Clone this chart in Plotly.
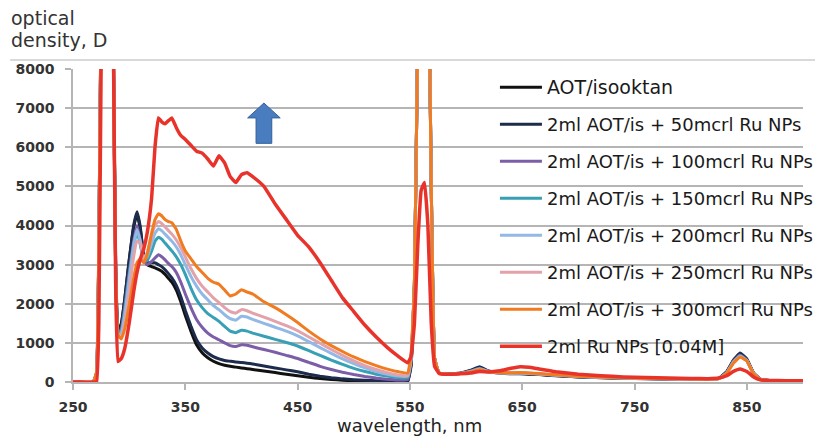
import plotly.graph_objects as go

# wavelength grid, nm
wl = [250, 268, 271, 273, 275, 277, 284, 286, 288, 290,
      293, 296, 300, 304, 307, 310, 313, 316, 320, 323,
      326, 329, 332, 335, 338, 342, 346, 350, 355, 360,
      365, 370, 375, 380, 385, 390, 395, 400, 405, 410,
      420, 430, 440, 450, 460, 470, 480, 490, 500, 510,
      520, 530, 540, 548, 551, 554, 557, 560, 563, 566,
      569, 572, 576, 585, 595, 604, 612, 620, 630, 640,
      648, 656, 665, 680, 700, 720, 740, 760, 780, 800,
      815, 825, 832, 838, 844, 850, 856, 862, 870, 885,
      900]

d_aot = [0, 0, 200, 3500, 9500, 14000, 14000, 8500, 3000, 1300,
         1500, 2100, 3100, 3950, 4300, 3900, 3200, 3000, 2950, 2920,
         2880, 2830, 2750, 2650, 2550, 2350, 2050, 1700, 1300, 950,
         750, 620, 530, 470, 430, 400, 380, 360, 340, 320,
         280, 240, 200, 160, 120, 90, 65, 45, 30, 20,
         15, 10, 10, 15, 400, 2500, 9000, 14000, 14000, 12000,
         5000, 600, 220, 200, 220, 290, 370, 270, 230, 210,
         210, 200, 190, 160, 130, 110, 95, 85, 75, 70,
         65, 90, 250, 540, 700, 560, 220, 70, 40, 35,
         35]

d_50 = [0, 0, 250, 3600, 9500, 14000, 14000, 8400, 2900, 1250,
        1450, 2100, 3100, 4000, 4350, 3950, 3200, 3050, 3050, 3050,
        3000, 2950, 2870, 2770, 2660, 2470, 2180, 1830, 1430, 1080,
        870, 740, 650, 590, 550, 530, 510, 500, 480, 460,
        410, 360, 310, 260, 200, 150, 110, 80, 60, 45,
        35, 25, 20, 30, 450, 2500, 9000, 14000, 14000, 12000,
        5000, 600, 230, 210, 230, 300, 390, 280, 240, 220,
        220, 210, 195, 165, 135, 115, 100, 88, 78, 72,
        68, 95, 260, 560, 740, 590, 230, 75, 40, 35,
        35]

d_100 = [0, 0, 200, 3400, 9400, 14000, 14000, 8400, 2900, 1250,
         1350, 1900, 2800, 3600, 4000, 3600, 3100, 3000, 3080, 3170,
         3250, 3200, 3120, 3030, 2950, 2800, 2550, 2250, 1900, 1600,
         1400, 1250, 1150, 1080, 1000, 930, 910, 950, 940, 900,
         830, 760, 680, 600, 500, 400, 320, 250, 190, 140,
         100, 70, 50, 60, 500, 2500, 9000, 14000, 14000, 12000,
         5000, 600, 230, 200, 220, 280, 350, 270, 235, 220,
         225, 215, 200, 170, 140, 118, 100, 88, 78, 72,
         68, 90, 240, 530, 690, 560, 220, 70, 40, 35,
         35]

d_150 = [0, 0, 200, 3400, 9400, 14000, 14000, 8300, 2800, 1250,
         1300, 1800, 2700, 3500, 3850, 3500, 3100, 3100, 3350, 3600,
         3700, 3650, 3550, 3450, 3350, 3200, 3000, 2750, 2400, 2100,
         1900, 1750, 1650, 1550, 1420, 1300, 1260, 1320, 1300, 1250,
         1170, 1090, 1010, 920, 800, 680, 560, 450, 350, 270,
         200, 150, 110, 110, 550, 2500, 9000, 14000, 14000, 12000,
         5000, 600, 230, 200, 215, 270, 340, 265, 235, 225,
         230, 220, 205, 175, 142, 120, 102, 90, 80, 73,
         68, 88, 230, 510, 670, 550, 215, 70, 40, 35,
         35]

d_200 = [0, 0, 200, 3300, 9300, 14000, 14000, 8300, 2700, 1200,
         1250, 1700, 2600, 3500, 3900, 3600, 3150, 3200, 3550, 3800,
         3920, 3870, 3780, 3690, 3600, 3450, 3250, 3000, 2700, 2450,
         2250, 2100, 1950, 1850, 1720, 1620, 1580, 1680, 1660, 1600,
         1500, 1400, 1300, 1180, 1030, 880, 730, 590, 470, 360,
         270, 200, 150, 150, 600, 2500, 9000, 14000, 14000, 12000,
         5000, 600, 230, 200, 215, 265, 330, 260, 235, 225,
         230, 222, 207, 177, 145, 122, 104, 92, 82, 74,
         68, 87, 225, 500, 660, 545, 210, 68, 40, 35,
         35]

d_250 = [0, 0, 200, 3300, 9300, 14000, 14000, 8200, 2600, 1150,
         1150, 1500, 2300, 3200, 3600, 3550, 3150, 3300, 3750, 4000,
         4100, 4050, 3960, 3870, 3780, 3630, 3430, 3200, 2900, 2650,
         2450, 2300, 2150, 2030, 1900, 1800, 1760, 1850, 1820, 1760,
         1660, 1550, 1440, 1310, 1150, 990, 830, 680, 540, 420,
         320, 240, 180, 170, 650, 2500, 9000, 14000, 14000, 12000,
         5000, 600, 230, 200, 215, 260, 320, 260, 238, 230,
         235, 225, 210, 180, 148, 124, 106, 93, 83, 75,
         68, 86, 220, 490, 650, 540, 210, 68, 40, 35,
         35]

d_300 = [0, 0, 250, 3400, 9400, 14000, 14000, 8300, 2700, 1200,
         1100, 1350, 1950, 2650, 3050, 3150, 3050, 3250, 3800, 4150,
         4300, 4250, 4150, 4100, 4070, 3900, 3600, 3350, 3150, 2950,
         2800, 2650, 2550, 2500, 2350, 2200, 2250, 2360, 2300, 2250,
         2050, 1900, 1720, 1520, 1300, 1100, 930, 780, 640, 520,
         420, 330, 260, 230, 700, 2500, 9000, 14000, 14000, 12000,
         5000, 600, 230, 200, 215, 255, 310, 260, 240, 235,
         240, 230, 215, 185, 150, 126, 108, 95, 85, 76,
         68, 85, 215, 480, 640, 535, 205, 66, 40, 35,
         35]

d_ru = [0, 0, 0, 1500, 8000, 14000, 14000, 8500, 2500, 520,
        600, 850, 1500, 2300, 2800, 3150, 3400, 3800, 4700, 6000,
        6750, 6650, 6600, 6680, 6750, 6500, 6300, 6200, 6050, 5900,
        5850, 5700, 5520, 5780, 5600, 5250, 5100, 5300, 5350, 5250,
        5000, 4550, 4150, 3750, 3450, 3050, 2600, 2150, 1800, 1450,
        1150, 880, 650, 490, 650, 1500, 3500, 4900, 5100, 4000,
        1500, 400, 220, 200, 210, 230, 270, 255, 285, 350,
        390, 375, 330, 260, 200, 160, 130, 112, 100, 92,
        86, 100, 160, 270, 330, 270, 130, 55, 40, 35,
        35]

series_names = [
    '<span style="font-size:19px">AOT/isooktan</span>',
    "2ml AOT/is + 50mcrl Ru NPs",
    "2ml AOT/is + 100mcrl Ru NPs",
    "2ml AOT/is + 150mcrl Ru NPs",
    "2ml AOT/is + 200mcrl Ru NPs",
    "2ml AOT/is + 250mcrl Ru NPs",
    "2ml AOT/is + 300mcrl Ru NPs",
    "2ml Ru NPs [0.04M]",
]
series_values = [d_aot, d_50, d_100, d_150, d_200, d_250, d_300, d_ru]
series_colors = ["#111111", "#1d2c4c", "#7b5ea7", "#37a0b5",
                 "#92b9e6", "#e3a2aa", "#f07b20", "#e8332a"]
series_widths = [3, 3, 3, 3, 3, 3, 3, 3.5]

x_ticks = [250, 350, 450, 550, 650, 750, 850]

for v in series_values:
    assert len(v) == len(wl), len(v)

FONT = "DejaVu Sans"
GRID = "#b5b5b5"

fig = go.Figure()
for i, (name, vals, col, w) in enumerate(zip(series_names, series_values,
                                             series_colors, series_widths)):
    fig.add_trace(go.Scatter(
        x=wl, y=vals, mode="lines", name=name,
        legendgroup=f"g{i}",
        line=dict(color=col, width=w, shape="spline", smoothing=0.3),
        hoverinfo="skip",
    ))

# block arrow (decoration), in data units
ax_c, ax_tip, ax_neck, ax_base = 420, 7130, 6750, 6100
head_half, shaft_half = 14.5, 7.0
arrow_path = (f"M {ax_c} {ax_tip} L {ax_c + head_half} {ax_neck} "
              f"L {ax_c + shaft_half} {ax_neck} L {ax_c + shaft_half} {ax_base} "
              f"L {ax_c - shaft_half} {ax_base} L {ax_c - shaft_half} {ax_neck} "
              f"L {ax_c - head_half} {ax_neck} Z")

fig.update_layout(
    width=823, height=438,
    margin=dict(l=65, r=28, t=61, b=64, autoexpand=False),
    paper_bgcolor="white", plot_bgcolor="white",
    font=dict(family=FONT, color="#222222"),
    showlegend=True,
    legend=dict(
        x=0.578, y=1.0, xanchor="left", yanchor="top",
        bgcolor="rgba(0,0,0,0)", borderwidth=0,
        font=dict(family=FONT, size=18, color="#1a1a1a"),
        tracegroupgap=10.6, itemwidth=42,
    ),
    xaxis=dict(
        range=[250, 900], tickmode="array", tickvals=x_ticks,
        showgrid=False, zeroline=False, automargin=False,
        showline=True, linecolor=GRID, linewidth=1.5,
        ticks="outside", ticklen=6, tickcolor=GRID, tickwidth=1.5,
        tickfont=dict(family=FONT, size=14, color="#333333", weight="bold"),
        ticklabelstandoff=5,
    ),
    yaxis=dict(
        range=[0, 8000], dtick=1000, tick0=0,
        showgrid=True, gridcolor=GRID, gridwidth=1.5, zeroline=False,
        automargin=False,
        showline=True, linecolor=GRID, linewidth=1.5,
        ticks="outside", ticklen=6, tickcolor=GRID, tickwidth=1.5,
        tickfont=dict(family=FONT, size=14, color="#333333", weight="bold"),
        ticklabelstandoff=8,
    ),
    shapes=[
        dict(type="line", xref="paper", yref="paper",
             x0=-0.086, x1=1.05, y0=1.029, y1=1.029,
             line=dict(color="#cccccc", width=1.5)),
        dict(type="rect", xref="paper", yref="paper",
             x0=0.534, x1=1.0, y0=0.096, y1=0.99,
             fillcolor="white", line=dict(width=0), layer="between"),
        dict(type="path", xref="x", yref="y", path=arrow_path,
             fillcolor="#4a7dc0", line=dict(color="#33609c", width=1)),
    ],
    annotations=[
        dict(text="optical", xref="paper", yref="paper",
             x=-0.088, y=1.163, xanchor="left", yanchor="middle",
             showarrow=False, font=dict(family=FONT, size=19, color="#333333")),
        dict(text="density, D", xref="paper", yref="paper",
             x=-0.088, y=1.093, xanchor="left", yanchor="middle",
             showarrow=False, font=dict(family=FONT, size=19, color="#333333")),
        dict(text="wavelength, nm", xref="paper", yref="paper",
             x=0.4616, y=-0.1374, xanchor="center", yanchor="middle",
             showarrow=False, font=dict(family=FONT, size=18, color="#222222")),
    ],
)

fig.write_html("out.html")
